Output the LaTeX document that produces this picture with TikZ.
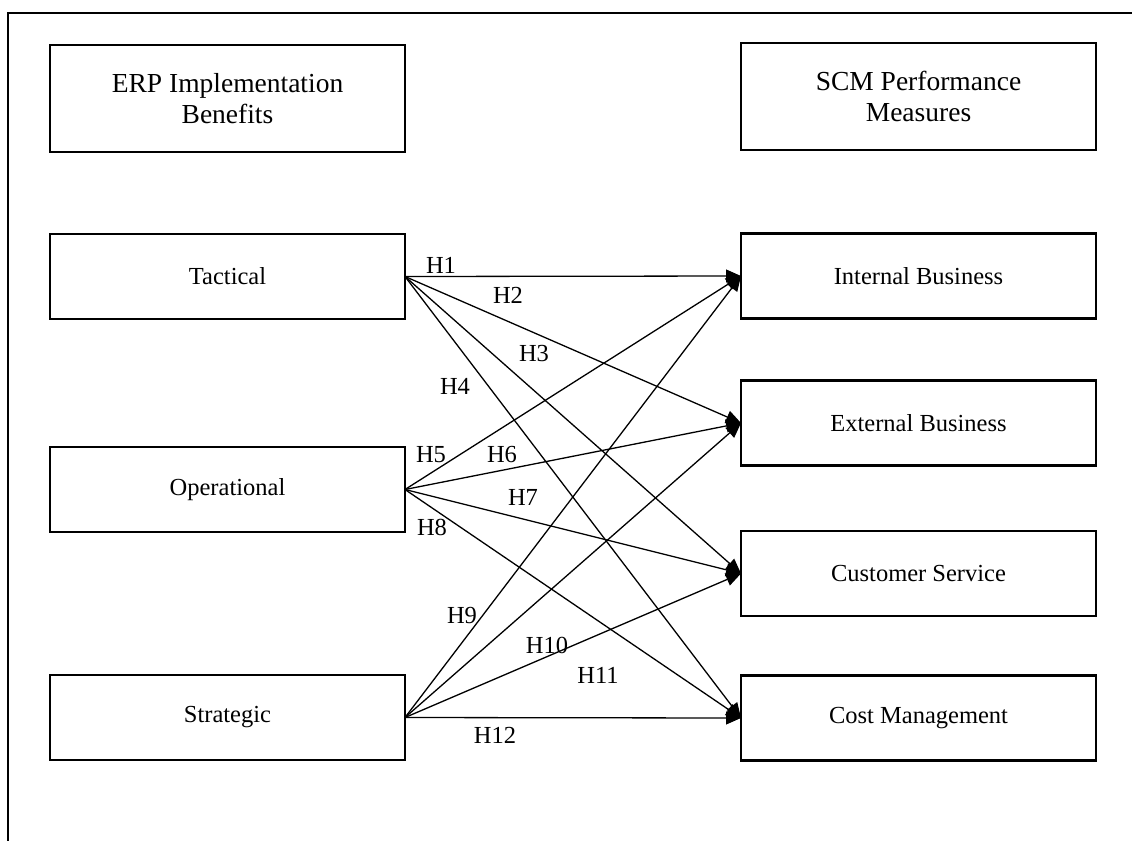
\documentclass[tikz,border=0pt]{standalone}
\usepackage{fontspec}
\setmainfont{Liberation Serif}
\usetikzlibrary{arrows.meta}
\begin{document}
\begin{tikzpicture}[x=1pt,y=-1pt,
  box/.style={draw, line width=2.8pt, rectangle, outer sep=0pt, minimum width=355pt, minimum height=85pt, align=center, font=\fontsize{24.5}{30}\selectfont},
  headbox/.style={box, minimum height=107pt, font=\fontsize{27.5}{31}\selectfont},
  link/.style={line width=1.3pt, -{Triangle[length=15pt,width=13pt]}},
  hlab/.style={inner sep=0pt, font=\fontsize{24.5}{28}\selectfont},
  frame/.style={line width=2.8pt}]
\useasboundingbox (0,0) rectangle (1132,841);
\draw[frame] (1132,13) -- (8,13) -- (8,841);

\node[headbox] (erp) at (227.5,98.5) {ERP Implementation\\Benefits};
\node[headbox] (scm) at (918.5,96.5) {SCM Performance\\Measures};

\node[box] (tac) at (227.5,276.5) {Tactical};
\node[box] (ope) at (227.5,489.5) {Operational};
\node[box] (str) at (227.5,717.5) {Strategic};

\node[box] (int) at (918.5,276) {Internal Business};
\node[box] (ext) at (918.5,423) {External Business};
\node[box] (cus) at (918.5,573.5) {Customer Service};
\node[box] (cos) at (918.5,718) {Cost Management};

\foreach \s in {tac,ope,str}
  \foreach \t in {int,ext,cus,cos}
    \draw[link] (\s.east) -- (\t.west);

\node[hlab] (h1) at (441,265) {H1};
\node[hlab] (h2) at (508,295) {H2};
\node[hlab] (h3) at (534,354) {H3};
\node[hlab] (h4) at (455,386) {H4};
\node[hlab] (h5) at (431,455) {H5};
\node[hlab] (h6) at (502,455) {H6};
\node[hlab] (h7) at (523,497) {H7};
\node[hlab] (h8) at (432,527) {H8};
\node[hlab] (h9) at (462,615) {H9};
\node[hlab] (h10) at (547,645) {H10};
\node[hlab] (h11) at (598,675) {H11};
\node[hlab] (h12) at (495,735) {H12};
\end{tikzpicture}
\end{document}
